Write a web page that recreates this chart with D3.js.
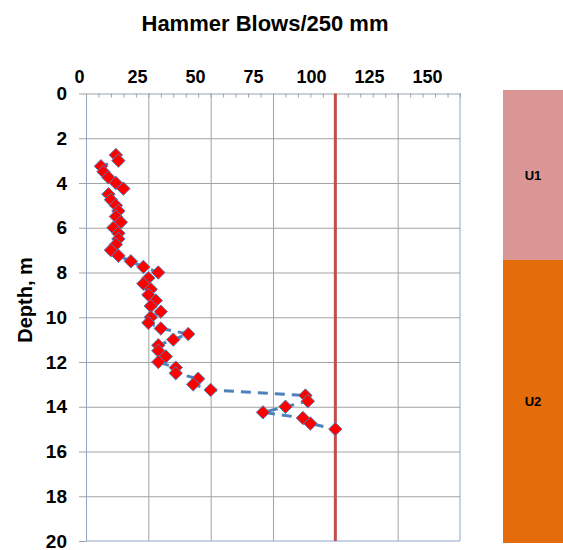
<!DOCTYPE html>
<html lang="en">
<head>
  <meta charset="UTF-8">
  <title>Hammer Blows vs Depth</title>
  <script src="https://d3js.org/d3.v7.min.js"></script>
  <style>
    body { margin: 0; background: #fff; }
    text { font-family: "Liberation Sans", Arial, sans-serif; font-weight: bold; }
  </style>
</head>
<body>
  <div id="my_dataviz"></div>
  <script>
    // Depth of each 250 mm blow count (m)
    var depths = [2.75, 3.0, 3.25, 3.5, 3.75, 4.0, 4.25, 4.5, 4.75, 5.0,
                  5.25, 5.5, 5.75, 6.0, 6.25, 6.5, 6.75, 7.0, 7.25, 7.5,
                  7.75, 8.0, 8.25, 8.5, 8.75, 9.0, 9.25, 9.5, 9.75, 10.0,
                  10.25, 10.5, 10.75, 11.0, 11.25, 11.5, 11.75, 12.0, 12.25, 12.5,
                  12.75, 13.0, 13.25, 13.5, 13.75, 14.0, 14.25, 14.5, 14.75, 15.0];
    // Hammer blows per 250 mm
    var blows = [12, 13, 6, 7, 9, 12, 15, 9, 10, 12,
                 13, 12, 14, 11, 13, 13, 12, 10, 13, 18,
                 23, 29, 25, 23, 26, 25, 28, 26, 30, 26,
                 25, 30, 41, 35, 29, 29, 32, 29, 36, 36,
                 45, 43, 50, 88, 89, 80, 71, 87, 90, 100];

    var xTicks = [0, 25, 50, 75, 100, 125, 150];
    var yTicks = [0, 2, 4, 6, 8, 10, 12, 14, 16, 18, 20];
    var refusal = 100;

    // Soil units
    var unitNames = ["U1", "U2"];
    var unitTop = [0, 7.5];
    var unitBottom = [7.5, 20];
    var unitColors = ["#d99694", "#e46c0a"];

    var data = depths.map(function(d, i) { return {depth: d, blows: blows[i]}; });

    var W = 563, H = 550;
    var pLeft = 86, pTop = 93.5, pRight = 460, pBottom = 541;

    var svg = d3.select("#my_dataviz")
      .append("svg")
        .attr("width", W)
        .attr("height", H);

    var x = d3.scaleLinear().domain([0, 150]).range([pLeft, pRight]);
    var xLab = d3.scaleLinear().domain([0, 150]).range([79, 427]);
    var y = d3.scaleLinear().domain([0, 20]).range([pTop, pBottom]);

    // Gridlines
    svg.append("g")
        .attr("transform", "translate(0," + pTop + ")")
        .call(d3.axisTop(x).tickValues(xTicks.slice(1, -1)).tickSize(-(pBottom - pTop)).tickFormat(""))
        .call(function(g) { g.select(".domain").remove(); })
        .selectAll("line").attr("stroke", "#a3a3a3");

    svg.append("g")
        .attr("transform", "translate(" + pLeft + ",0)")
        .call(d3.axisLeft(y).tickValues(yTicks.slice(1, -1)).tickSize(-(pRight - pLeft)).tickFormat(""))
        .call(function(g) { g.select(".domain").remove(); })
        .selectAll("line").attr("stroke", "#a3a3a3");

    // Left axis
    var yAxis = svg.append("g")
        .attr("transform", "translate(" + pLeft + ",0)")
        .call(d3.axisLeft(y).tickValues(yTicks).tickSize(7).tickSizeOuter(0).tickPadding(12));
    yAxis.select(".domain").attr("stroke", "#8ea5c8");
    yAxis.selectAll("line").attr("stroke", "#a3a3a3");
    yAxis.selectAll("text").style("font-size", "19px").attr("fill", "#000");

    // Top axis with minor ticks
    var xAxis = svg.append("g")
        .attr("transform", "translate(0," + pTop + ")")
        .call(d3.axisTop(x).ticks(30).tickSize(-4).tickSizeOuter(0).tickFormat(""));
    xAxis.select(".domain").attr("stroke", "#98a3b5");
    xAxis.selectAll("line").attr("stroke", "#a3a3a3");

    // Top tick labels
    svg.append("g")
        .attr("transform", "translate(0,83)")
        .call(d3.axisTop(xLab).tickValues(xTicks).tickSize(0).tickPadding(0))
        .call(function(g) { g.select(".domain").remove(); })
        .selectAll("text").style("font-size", "18px").attr("fill", "#000");

    // Right and bottom borders
    svg.append("line")
        .attr("x1", x(150)).attr("x2", x(150)).attr("y1", y(0)).attr("y2", y(20))
        .attr("stroke", "#8ea5c8");
    svg.append("line")
        .attr("x1", x(0)).attr("x2", x(150)).attr("y1", y(20)).attr("y2", y(20))
        .attr("stroke", "#8ea5c8");

    // Refusal line
    svg.append("line")
        .attr("x1", x(refusal)).attr("x2", x(refusal)).attr("y1", y(0)).attr("y2", y(20))
        .attr("stroke", "#c0504d")
        .attr("stroke-width", 3);

    // Dashed connecting line
    svg.append("path")
        .datum(data)
        .attr("fill", "none")
        .attr("stroke", "#4f81bd")
        .attr("stroke-width", 3)
        .attr("stroke-dasharray", "10,7")
        .attr("d", d3.line()
          .x(function(d) { return x(d.blows); })
          .y(function(d) { return y(d.depth); }));

    // Diamond markers
    svg.selectAll(".pt")
        .data(data)
        .enter()
        .append("path")
          .attr("class", "pt")
          .attr("transform", function(d) { return "translate(" + x(d.blows) + "," + y(d.depth) + ")"; })
          .attr("d", d3.symbol().type(d3.symbolDiamond2).size(115))
          .attr("fill", "#ff0000")
          .attr("stroke", "#4f81bd")
          .attr("stroke-width", 1);

    // Title
    svg.append("text")
        .attr("x", 265)
        .attr("y", 31)
        .attr("text-anchor", "middle")
        .style("font-size", "22px")
        .text("Hammer Blows/250 mm");

    // Y-axis label
    svg.append("text")
        .attr("transform", "translate(32,300) rotate(-90)")
        .attr("text-anchor", "middle")
        .style("font-size", "20px")
        .text("Depth, m");

    // Soil unit column
    var yU = d3.scaleLinear().domain([0, 20]).range([90, 543]);
    var units = svg.selectAll(".unit")
        .data(unitNames)
        .enter()
        .append("g")
          .attr("class", "unit");
    units.append("rect")
        .attr("x", 503)
        .attr("width", W - 503)
        .attr("y", function(d, i) { return yU(unitTop[i]); })
        .attr("height", function(d, i) { return yU(unitBottom[i]) - yU(unitTop[i]); })
        .attr("fill", function(d, i) { return unitColors[i]; });
    units.append("text")
        .attr("x", 533)
        .attr("y", function(d, i) { return (yU(unitTop[i]) + yU(unitBottom[i])) / 2 + 5; })
        .attr("text-anchor", "middle")
        .style("font-size", "13px")
        .text(function(d) { return d; });
  </script>
</body>
</html>
